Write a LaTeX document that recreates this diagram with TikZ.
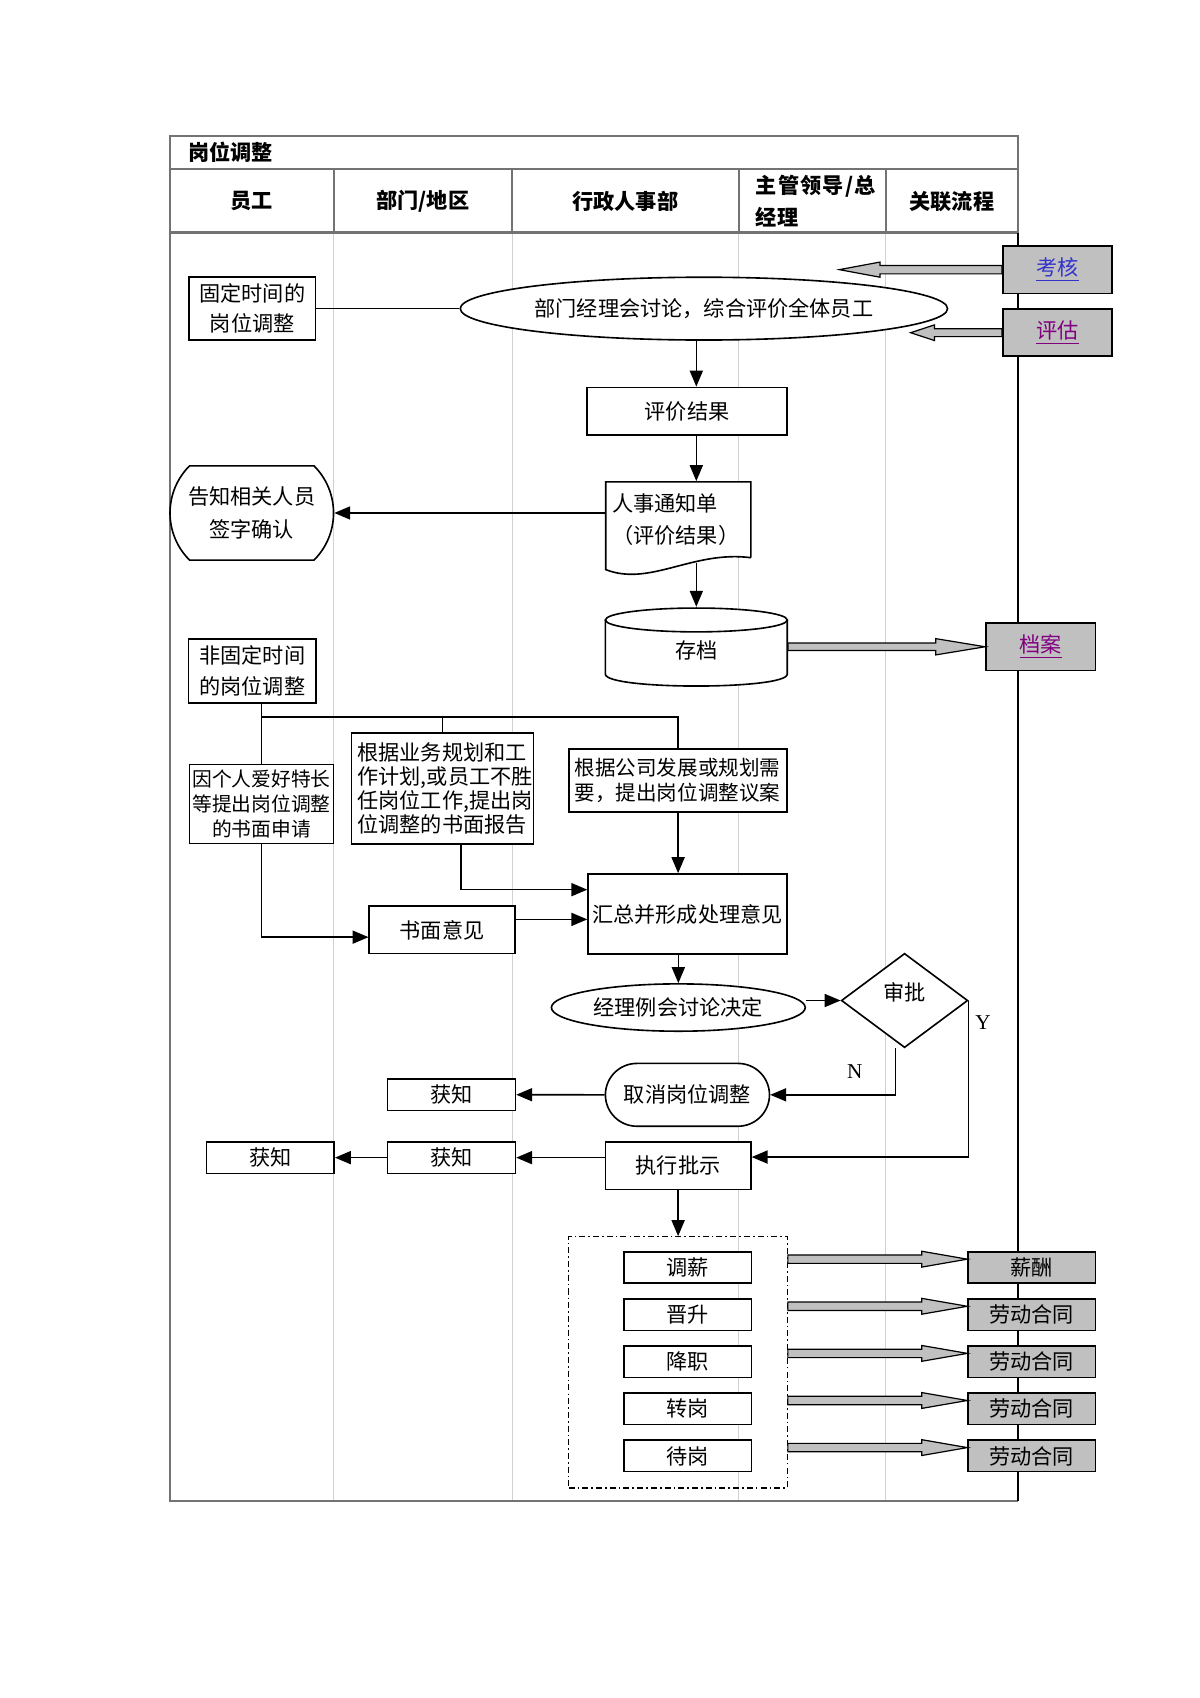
\documentclass[tikz,border=0pt]{standalone}
\usepackage{fontspec}
\setmainfont{Noto Sans CJK SC}
\newfontfamily\latinserif{Liberation Serif}
\usetikzlibrary{arrows,calc,shapes.geometric,shapes.misc}

\definecolor{linkgray}{HTML}{C0C0C0}
\definecolor{linkblue}{HTML}{3333CC}
\definecolor{linkpurple}{HTML}{800080}

\newcommand{\pxu}{0.537pt}
% tail, tip, head back (signed), shaft half height, head half height
\newcommand{\fatarrow}[5]{%
  \draw[fatline] ($(#1)+(0,-#4)$) -- ($(#2)+(#3,-#4)$) -- ($(#2)+(#3,-#5)$) -- (#2)
    -- ($(#2)+(#3,#5)$) -- ($(#2)+(#3,#4)$) -- ($(#1)+(0,#4)$) -- cycle;}

\begin{document}
\begin{tikzpicture}[
    x=\pxu, y=-\pxu,
    thick,
    >=triangle 45,
    every node/.style = {font=\fontsize{10.5}{12.5}\selectfont},
    frame/.style = {draw=black!55, line width=1pt},
    lane/.style = {draw=black!18, line width=0.5pt},
    box/.style = {
      draw,
      fill = white,
      rectangle,
      inner sep = 0pt,
      align = center
    },
    itembox/.style = {box, minimum width=118*\pxu, minimum height=29*\pxu},
    linkbox/.style = {box, fill=linkgray, minimum width=117.5*\pxu, minimum height=29*\pxu},
    fatline/.style = {draw, fill=linkgray, line width=0.6pt, line join=miter},
    head/.style = {font=\fontsize{10.5}{16}\selectfont\bfseries},
    tag/.style = {font=\fontsize{10.5}{12}\selectfont\latinserif, inner sep=0pt}
  ]
  \useasboundingbox[fill=white] (0,0) rectangle (1108,1568);

  % frame and lanes
  \foreach \lx in {308,473,682,818}{
    \draw[lane] (\lx,215) -- (\lx,1386);
    \draw[frame] (\lx,156) -- (\lx,215);
  }
  \draw[frame] (157,156) -- (940,156);
  \draw[frame, line width=1.4pt] (157,215) -- (940,215);
  \draw[frame] (940,215) -- (940,126) -- (157,126) -- (157,1386) -- (940,1386);
  \draw[line width=0.6pt] (940,215) -- (940,1386);

  \node[head, anchor=west] (title) at (167,141) {岗位调整};
  \node[head] (hstaff) at (232.5,186) {员工};
  \node[head] (hdept) at (390.5,186) {部门/地区};
  \node[head] (hhr) at (577.5,186) {行政人事部};
  \node[head, anchor=west, align=left] (hboss) at (691,186) {主\hspace{0.6pt}管\hspace{0.6pt}领\hspace{0.6pt}导\hspace{0.6pt}/\hspace{0.6pt}总\\经理};
  \node[head] (hlink) at (879,186) {关联流程};

  % fixed time
  \node[box, minimum width=117*\pxu, minimum height=58*\pxu, font=\fontsize{10.5}{15}\selectfont] (fixed) at (233,285) {固定时间的\\岗位调整};
  \node[draw, fill=white, ellipse, inner sep=0pt, minimum width=450*\pxu, minimum height=58*\pxu] (evalmeet) at (650,285) {部门经理会讨论，综合评价全体员工};
  \node[box, minimum width=185*\pxu, minimum height=44*\pxu] (result) at (634.5,379.7) {评价结果};

  \coordinate (docnw) at (559.4,445);
  \coordinate (docse) at (693.4,515);
  \draw[fill=white] (docse) -- (docse |- docnw) -- (docnw) -- ($(docnw)+(0,81)$)
    .. controls (600,542) and (640,508) .. (docse);
  \node[inner sep=0pt, minimum width=134*\pxu, minimum height=70*\pxu, text width=122*\pxu, align=left, font=\fontsize{10.5}{15.6}\selectfont] (notice) at ($(docnw)!0.5!(docse)$) {人事通知单\\（评价结果）};

  \node[draw, fill=white, rounded rectangle, rounded rectangle arc length=90, inner sep=0pt, minimum width=151*\pxu, minimum height=87*\pxu, align=center, font=\fontsize{10.5}{16}\selectfont] (inform) at (232.5,473.7) {告知相关人员\\签字确认};

  \coordinate (cyl) at (643,572.5);
  \draw[fill=white] ($(cyl)+(-84,0)$) -- ($(cyl)+(-84,50)$) .. controls +(0,14.7) and +(0,14.7) .. ($(cyl)+(84,50)$) -- ($(cyl)+(84,0)$);
  \draw[fill=white] (cyl) ellipse [x radius=84, y radius=11];
  \node[inner sep=0pt, minimum width=168*\pxu, minimum height=80*\pxu] (archive) at (643,601) {存档};

  \node[box, fill=linkgray, minimum width=101*\pxu, minimum height=44*\pxu] (kaohe) at (976.5,249) {\textcolor{linkblue}{\underline{考核}}};
  \node[box, fill=linkgray, minimum width=101*\pxu, minimum height=43.5*\pxu] (pinggu) at (976.5,307.25) {\textcolor{linkpurple}{\underline{评估}}};
  \node[box, fill=linkgray, minimum width=101*\pxu, minimum height=43.5*\pxu] (archfile) at (961,597.25) {\textcolor{linkpurple}{\underline{档案}}};

  \coordinate (spine) at (643,0);
  \draw (fixed.east) -- (evalmeet.west);
  \draw[->] (evalmeet.south -| spine) -- (result.north -| spine);
  \draw[->] (result.south -| spine) -- (notice.north -| spine);
  \draw[->] (notice.west |- inform.east) -- (inform.east);
  \draw[->] ($(notice.south -| spine)+(0,4)$) -- (archive.north);

  \coordinate (kaohe tip) at ($(kaohe.west)+(-150.2,0)$);
  \fatarrow{kaohe.west}{kaohe tip}{37.6}{3.9}{7}
  \coordinate (pinggu tip) at ($(pinggu.west)+(-84.4,0)$);
  \fatarrow{pinggu.west}{pinggu tip}{22}{3.6}{7.2}
  \coordinate (archive tail) at (archive.east |- archfile.west);
  \fatarrow{archive tail}{archfile.west}{-45.6}{3.4}{7.5}

  % non fixed time
  \node[box, minimum width=118*\pxu, minimum height=59*\pxu, font=\fontsize{10.5}{15}\selectfont] (nonfixed) at (233,619.5) {非固定时间\\的岗位调整};
  \node[box, minimum width=133*\pxu, minimum height=73*\pxu, font=\fontsize{9.8}{12.4}\selectfont] (personal) at (241.4,742.5) {因个人爱好特长\\等提出岗位调整\\的书面申请};
  \node[box, minimum width=168.3*\pxu, minimum height=102.4*\pxu, text width=157*\pxu, align=left, font=\fontsize{10.5}{12}\selectfont] (deptplan) at (408.6,728) {根据业务规划和工\\作计划,或员工不胜\\任岗位工作,提出岗\\位调整的书面报告};
  \node[box, minimum width=201*\pxu, minimum height=58.5*\pxu, text width=191*\pxu, align=left, font=\fontsize{10.2}{12.4}\selectfont] (corpplan) at (626.2,720.7) {根据公司发展或规划需\\要，提出岗位调整议案};
  \node[box, minimum width=183.6*\pxu, minimum height=74*\pxu] (summary) at (634.8,844) {汇总并形成处理意见};
  \node[box, minimum width=134.6*\pxu, minimum height=43.7*\pxu] (opinion) at (408.3,858.7) {书面意见};

  \coordinate (bus) at (241.4,662.3);
  \draw (bus |- nonfixed.south) -- (personal.north);
  \draw (bus) -| (corpplan.north);
  \draw (bus -| deptplan.north) -- (deptplan.north);
  \draw[->] (corpplan.south) -- (corpplan.south |- summary.north);
  \draw[->] ($(deptplan.south)+(17,0)$) |- ($(summary.north west)+(0,15.3)$);
  \draw[->] (personal.south) |- ($(opinion.west)+(0,6.7)$);
  \draw[->] ($(opinion.east)+(0,-9.7)$) -- ($(summary.west)+(0,5)$);

  % decision
  \node[draw, fill=white, ellipse, inner sep=0pt, minimum width=234.4*\pxu, minimum height=43.7*\pxu] (meeting) at (626.4,930.4) {经理例会讨论决定};
  \node[draw, fill=white, diamond, inner sep=0pt, minimum width=116.8*\pxu, minimum height=87.1*\pxu, text height=0pt, text depth=0pt] (approve) at (835.3,923.9) {审批};
  \node[draw, fill=white, rounded rectangle, inner sep=0pt, minimum width=151.5*\pxu, minimum height=58*\pxu] (cancel) at (634.8,1011) {取消岗位调整};
  \node[box, minimum width=134.4*\pxu, minimum height=44*\pxu] (execute) at (626.2,1076.4) {执行批示};
  \node[itembox] (knowA) at (417,1010.9) {获知};
  \node[itembox] (knowB) at (417,1069) {获知};
  \node[itembox] (knowC) at (249.6,1069) {获知};

  \draw[->] (summary.south -| meeting.north) -- (meeting.north);
  \draw[->] (meeting.east |- approve.west) -- (approve.west);
  \draw[->] ($(approve.south)+(-8.3,0)$) |- (cancel.east) node[tag, pos=0.25, left=16pt] {N};
  \draw[->] (approve.east) |- ($(execute.north east)+(0,14.8)$) node[tag, pos=0.07, right=3pt] {Y};
  \draw[->] (cancel.west) -- (knowA.east);
  \draw[->] (execute.west |- knowB.east) -- (knowB.east);
  \draw[->] (knowB.west) -- (knowC.east);

  % results
  \node[draw, dash pattern=on 3pt off 1.5pt on 0.8pt off 1.5pt, line width=0.6pt, minimum width=202*\pxu, minimum height=232*\pxu, inner sep=0pt] (group) at (626,1258) {};
  \draw[->] (execute.south) -- (execute.south |- group.north);
  \foreach \name/\txt/\lnk [count=\i from 0] in {salary/调薪/薪酬, promote/晋升/劳动合同, demote/降职/劳动合同, transfer/转岗/劳动合同, standby/待岗/劳动合同}{
    \node[itembox] (\name) at (635,1170.5+43.5*\i) {\txt};
    \node[linkbox] (\name link) at (952.75,1170.5+43.5*\i) {\lnk};
    \coordinate (\name tip) at ($(\name link.north west)+(0,7.5)$);
    \coordinate (\name tail) at (group.east |- \name tip);
    \fatarrow{\name tail}{\name tip}{-42}{3.9}{7.3}
  }
\end{tikzpicture}
\end{document}
